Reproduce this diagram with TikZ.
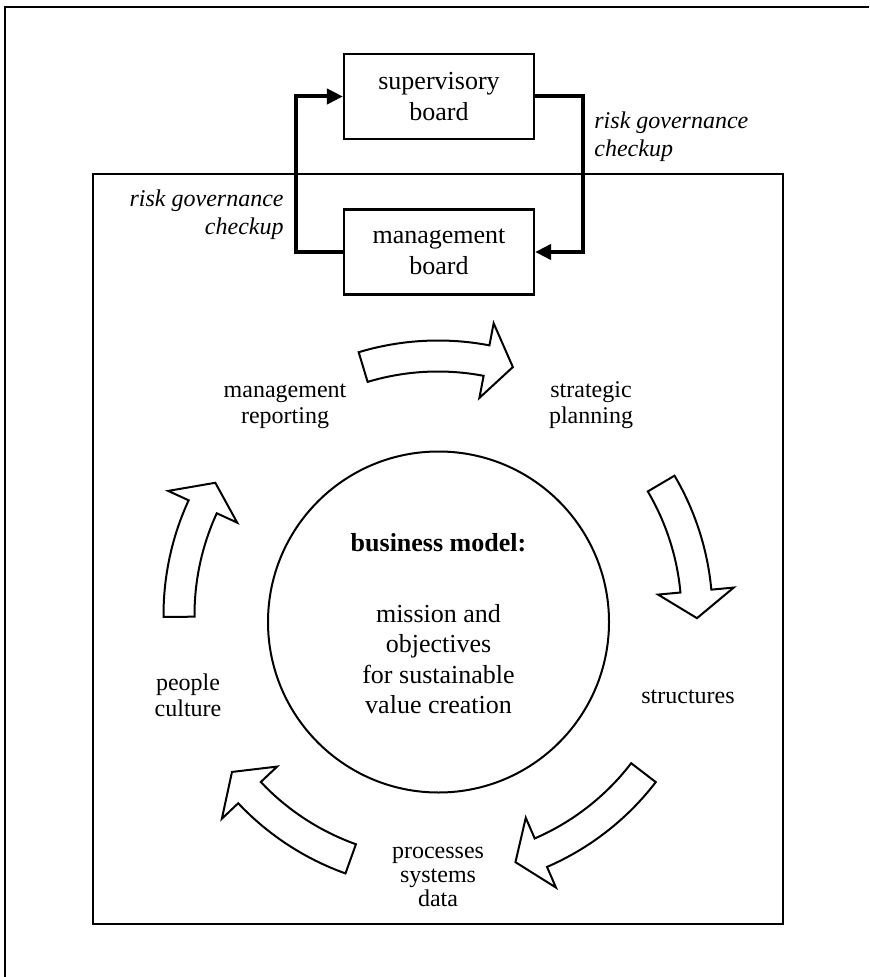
\documentclass[tikz,border=0pt]{standalone}
\usepackage{fontspec}
\setmainfont{Liberation Serif}
\usetikzlibrary{arrows.meta}
\tikzset{Cycle/.style = {% styles of the governance cycle
     board/.style = {draw, line width=1.1pt, minimum width=95pt,
                     minimum height=42.5pt, inner sep=0pt, align=center,
                     font=\fontsize{13}{15.5}\selectfont},
     check/.style = {line width=2pt, -{Triangle[length=8pt,width=7.5pt]}},
      risk/.style = {inner sep=0pt, font=\fontsize{12}{14}\selectfont\itshape},
     phase/.style = {inner sep=0pt, align=center, font=\fontsize{12}{13}\selectfont},
blockarrow/.style = {draw, line width=1pt, line join=miter, fill=white}}
        }

\begin{document}
\begin{tikzpicture}[Cycle, x=0.5pt, y=-0.5pt]
 \useasboundingbox (0,0) rectangle (869,977);
 \draw[line width=1pt] (5,977) -- (5,7) -- (869,7);
 \draw[line width=0.9pt] (93,174) rectangle (783,924);
 % boards
 \node[board] (supervisory) at (439,96.5) {supervisory\\board};
 \node[board] (management) at (439,252) {management\\board};
 \draw[check] (management.west) -- ++(-47,0) |- (supervisory.west);
 \draw[check] (supervisory.east) -- ++(48,0) |- (management.east);
 \node[risk, anchor=west, align=left] (checkR) at (594,137) {risk governance\\checkup};
 \node[risk, anchor=east, align=right] (checkL) at (284,214.5) {risk governance\\checkup};
 % business model
 \node[draw, circle, line width=1pt, minimum size=170.5pt] (model) at (438.5,622) {};
 \node[font=\fontsize{13}{15}\selectfont\bfseries] (modeltitle) at (438.5,543) {business model:};
 \node[align=center, font=\fontsize{13}{15.25}\selectfont] (mission) at (438.5,659)
   {mission and\\objectives\\for sustainable\\value creation};
 % cycle
 \begin{scope}[shift={(438,615)}, yscale=-1]
 \foreach \T/\P in {106.8/73.2, 30.5/-0.7, -37.5/-72.6, -109.7/-142.7, 180.4/149.3}
  {\draw[blockarrow] (\T:274.5) arc[start angle=\T, end angle=\P+6, radius=274.5]
     -- (\P+6:297) -- (\P:259) -- (\P+6:221) -- (\P+6:243.5)
     arc[start angle=\P+6, end angle=\T, radius=243.5] -- cycle;}
 \end{scope}
 \node[phase] (reporting) at (285,406.5) {management\\reporting};
 \node[phase] (planning) at (591,405) {strategic\\planning};
 \node[phase] (structures) at (688,697) {structures};
 \node[phase, font=\fontsize{12}{12}\selectfont] (processes) at (438,876.5) {processes\\systems\\data};
 \node[phase] (culture) at (188,695) {people\\culture};
\end{tikzpicture}
\end{document}
